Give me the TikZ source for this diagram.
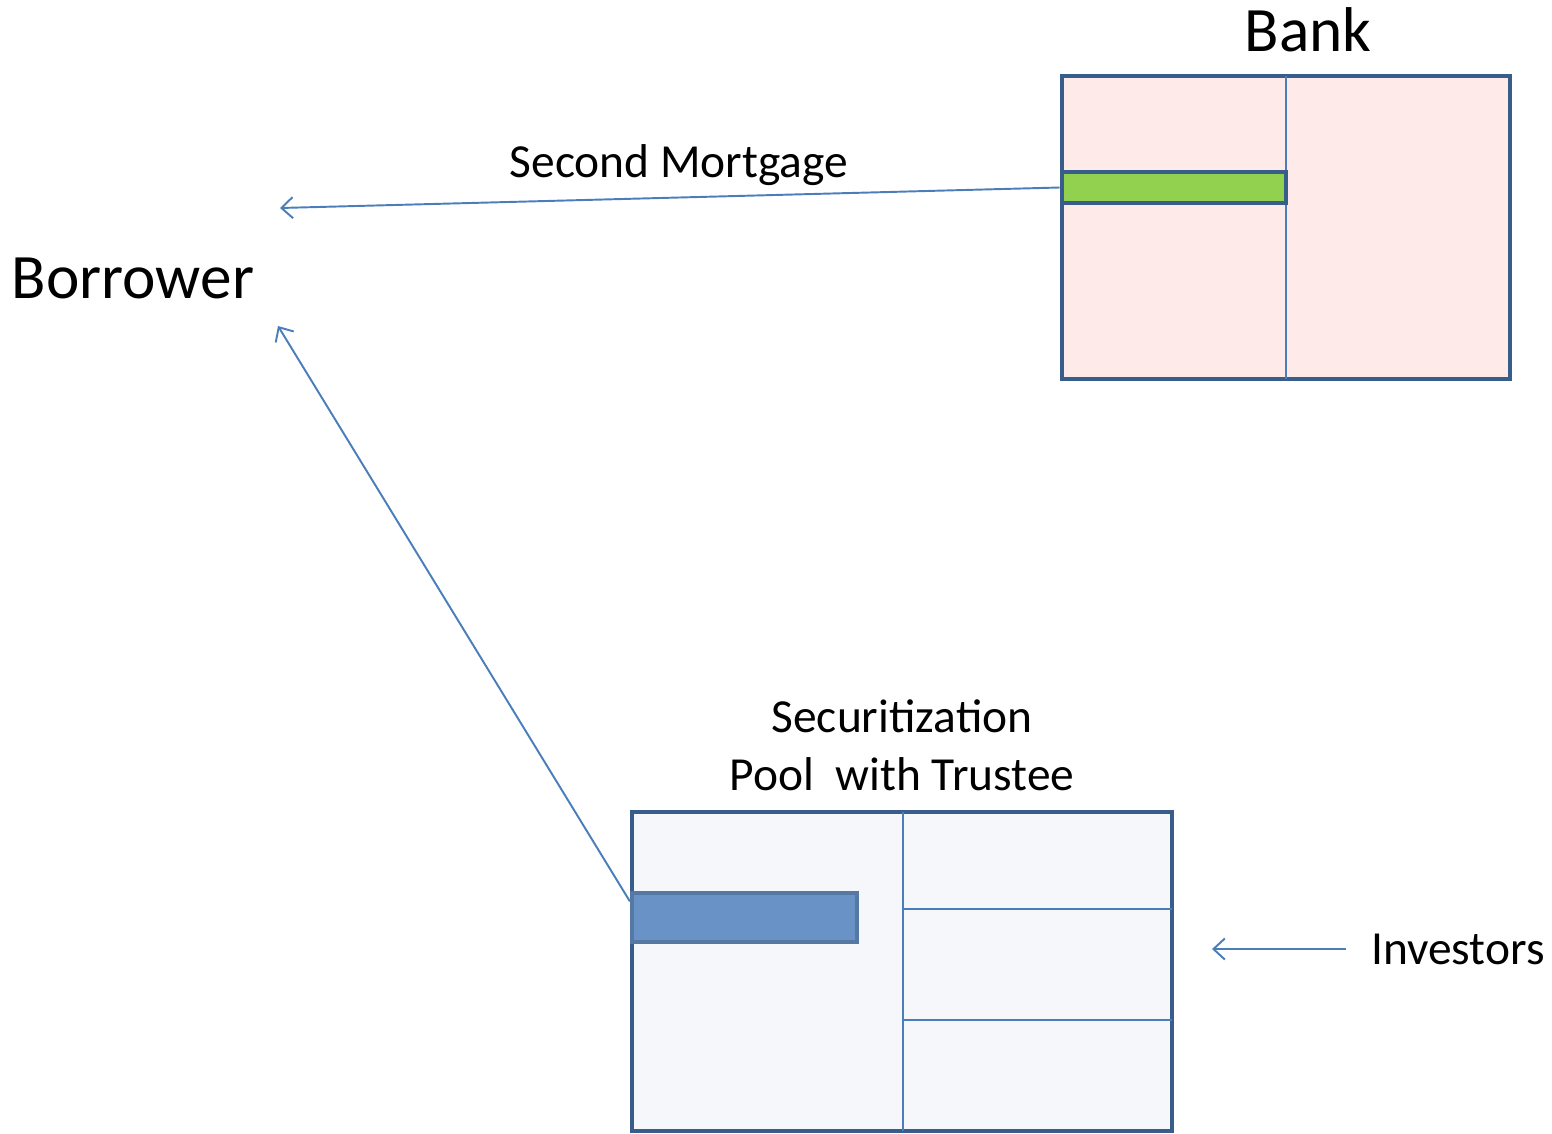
\documentclass[tikz,border=0pt]{standalone}
\usepackage{fontspec}
\setmainfont{Carlito}
\usetikzlibrary{arrows.meta, fit, positioning}
\definecolor{boxline}{HTML}{385D8A}
\definecolor{arrowblue}{HTML}{4A7EBB}
\definecolor{bankpink}{HTML}{FFEAEA}
\definecolor{poolgrey}{HTML}{F5F7FB}
\definecolor{loangreen}{HTML}{92D050}
\definecolor{poolblue}{HTML}{6993C7}
\definecolor{poolrim}{HTML}{5679A3}

\tikzset{
  sheet/.style={draw=boxline, line width=2.8pt},
  split/.style={draw=arrowblue, line width=0.9pt},
  flow/.style={draw=arrowblue, line width=1.1pt, -{Straight Barb[length=6.5pt,width=12pt]}},
  bar/.style={inner sep=0pt, line width=2.8pt},
  bigtext/.style={font=\fontsize{36}{42}\selectfont},
  smalltext/.style={font=\fontsize{27}{33}\selectfont},
}

\begin{document}
\begin{tikzpicture}[x=0.02cm, y=-0.02cm]
			\useasboundingbox (0,0) rectangle (1552,1133);
			% bank balance sheet
			\draw[sheet, fill=bankpink] (1062,76) rectangle (1510,379);
			\draw[split] (1286,76) -- (1286,379);
			\node[bar, draw=boxline, fill=loangreen, fit={(1062,172) (1286,203)}] (mortbar) {};
			\node[bigtext] (bank) at (1308,30) {Bank};
			% securitization pool
			\draw[sheet, fill=poolgrey] (632,812) rectangle (1172,1131);
			\draw[split] (903,812) -- (903,1131);
			\draw[split] (903,909) -- (1172,909);
			\draw[split] (903,1020) -- (1172,1020);
			\node[bar, draw=poolrim, line width=2.4pt, fill=poolblue, fit={(632,893) (857,942)}] (poolbar) {};
			\node[smalltext, align=center] (pool) at (902,745) {Securitization\\Pool~~with Trustee};
			% labels
			\node[bigtext] (borrower) at (133,278) {Borrower};
			\node[smalltext] (mortlabel) at (679,165) {Second Mortgage};
			\node[smalltext, anchor=west] (investors) at (1365,949) {Investors};
			% flows
			\coordinate (mortend) at (280,208);
			\coordinate (poolend) at (278,326);
			\coordinate (invend) at (1212,949);
			\draw[flow] (mortbar.west) -- (mortend);
			\draw[flow] (poolbar.172) -- (poolend);
			\draw[flow, shorten <=11pt] (investors.west) -- (invend);
\end{tikzpicture}
\end{document}
